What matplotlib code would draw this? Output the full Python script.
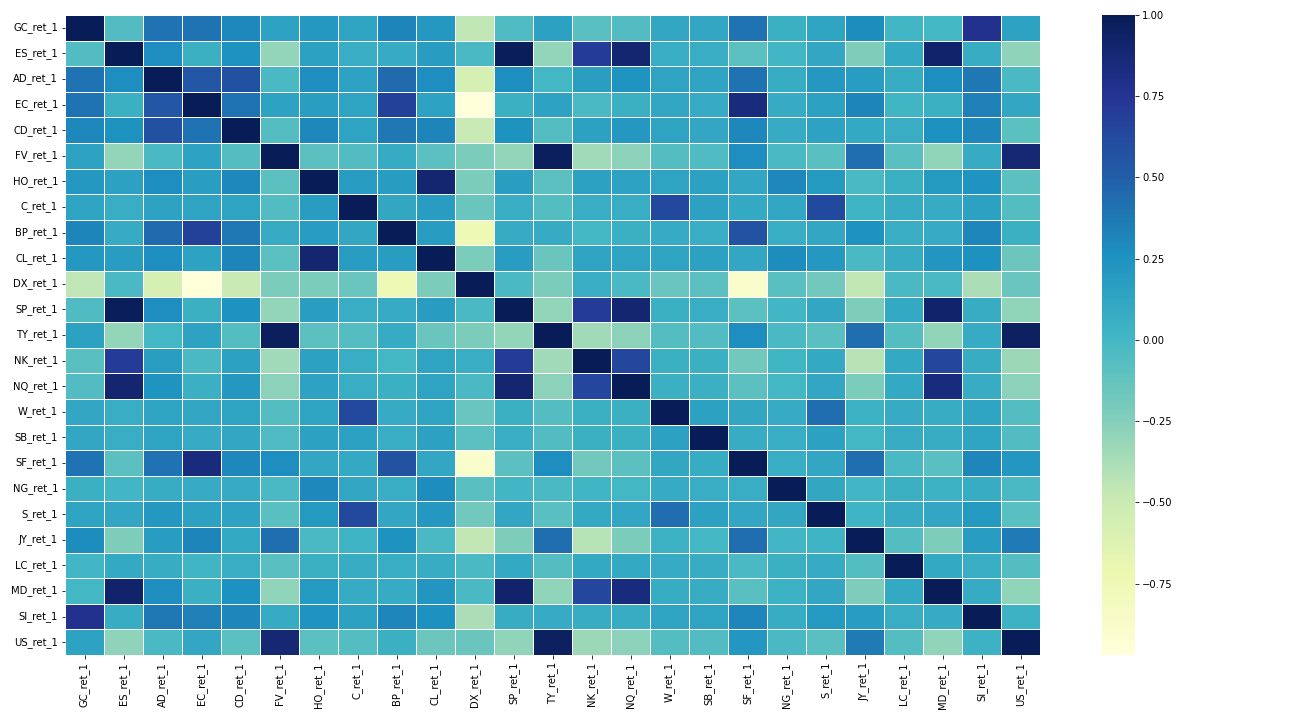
import numpy as np
import pandas as pd
import matplotlib
matplotlib.use("Agg")
import matplotlib.pyplot as plt
import seaborn as sns

labels = ["GC_ret_1", "ES_ret_1", "AD_ret_1", "EC_ret_1", "CD_ret_1", "FV_ret_1",
          "HO_ret_1", "C_ret_1", "BP_ret_1", "CL_ret_1", "DX_ret_1", "SP_ret_1",
          "TY_ret_1", "NK_ret_1", "NQ_ret_1", "W_ret_1", "SB_ret_1", "SF_ret_1",
          "NG_ret_1", "S_ret_1", "JY_ret_1", "LC_ret_1", "MD_ret_1", "SI_ret_1",
          "US_ret_1"]

# upper-triangle correlations, each row lists values for the columns after the diagonal
r_GC = [-0.05, 0.40, 0.40, 0.30, 0.15, 0.21, 0.14, 0.32, 0.21, -0.45, -0.04, 0.16, -0.08,
        -0.05, 0.12, 0.12, 0.40, 0.06, 0.14, 0.28, 0.01, 0.00, 0.78, 0.15]
r_ES = [0.27, 0.06, 0.25, -0.30, 0.16, 0.07, 0.09, 0.18, -0.02, 0.99, -0.30, 0.70, 0.90,
        0.07, 0.07, -0.10, 0.01, 0.12, -0.23, 0.10, 0.92, 0.08, -0.28]
r_AD = [0.55, 0.58, -0.02, 0.27, 0.15, 0.45, 0.27, -0.57, 0.27, 0.00, 0.17, 0.24, 0.14,
        0.14, 0.40, 0.08, 0.21, 0.19, 0.08, 0.27, 0.38, -0.02]
r_EC = [0.40, 0.15, 0.17, 0.14, 0.67, 0.15, -0.97, 0.06, 0.15, -0.02, 0.06, 0.12, 0.09,
        0.85, 0.09, 0.16, 0.32, 0.02, 0.06, 0.34, 0.12]
r_CD = [-0.06, 0.30, 0.14, 0.38, 0.32, -0.49, 0.25, -0.06, 0.16, 0.21, 0.14, 0.12, 0.30,
        0.09, 0.15, 0.10, 0.07, 0.26, 0.31, -0.10]
r_FV = [-0.10, -0.05, 0.09, -0.10, -0.22, -0.30, 0.97, -0.34, -0.27, -0.06, -0.04, 0.27,
        -0.02, -0.08, 0.43, -0.08, -0.29, 0.09, 0.88]
r_HO = [0.18, 0.18, 0.90, -0.22, 0.17, -0.10, 0.16, 0.15, 0.14, 0.16, 0.12, 0.30, 0.20,
        -0.02, 0.06, 0.20, 0.24, -0.10]
r_C = [0.11, 0.18, -0.14, 0.07, -0.06, 0.07, 0.07, 0.63, 0.16, 0.10, 0.12, 0.63, 0.03,
       0.08, 0.09, 0.16, -0.06]
r_BP = [0.18, -0.75, 0.09, 0.09, 0.00, 0.06, 0.09, 0.07, 0.57, 0.07, 0.12, 0.25, 0.07,
        0.09, 0.31, 0.06]
r_CL = [-0.22, 0.18, -0.14, 0.14, 0.14, 0.14, 0.16, 0.12, 0.28, 0.21, -0.02, 0.08, 0.23,
        0.26, -0.16]
r_DX = [-0.02, -0.22, 0.07, -0.02, -0.14, -0.10, -0.88, -0.08, -0.18, -0.46, -0.02,
        -0.02, -0.38, -0.14]
r_SP = [-0.30, 0.70, 0.90, 0.06, 0.07, -0.10, 0.01, 0.12, -0.23, 0.10, 0.92, 0.08, -0.29]
r_TY = [-0.34, -0.27, -0.06, -0.05, 0.27, -0.02, -0.08, 0.43, -0.06, -0.29, 0.09, 0.96]
r_NK = [0.64, 0.06, 0.06, -0.18, 0.02, 0.10, -0.42, 0.10, 0.64, 0.08, -0.33]
r_NQ = [0.06, 0.06, -0.10, 0.00, 0.12, -0.22, 0.10, 0.85, 0.08, -0.27]
r_W = [0.16, 0.11, 0.09, 0.43, 0.04, 0.09, 0.08, 0.14, -0.06]
r_SB = [0.08, 0.07, 0.16, 0.00, 0.08, 0.08, 0.14, -0.05]
r_SF = [0.07, 0.12, 0.43, -0.02, -0.08, 0.31, 0.22]
r_NG = [0.11, 0.01, 0.06, 0.04, 0.08, -0.02]
r_S = [0.03, 0.09, 0.12, 0.20, -0.08]
r_JY = [-0.06, -0.23, 0.18, 0.37]
r_LC = [0.10, 0.07, -0.06]
r_MD = [0.09, -0.29]
r_SI = [0.04]

upper = [r_GC, r_ES, r_AD, r_EC, r_CD, r_FV, r_HO, r_C, r_BP, r_CL, r_DX, r_SP, r_TY,
         r_NK, r_NQ, r_W, r_SB, r_SF, r_NG, r_S, r_JY, r_LC, r_MD, r_SI]

n = len(labels)
M = np.eye(n)
for i, row in enumerate(upper):
    for k, v in enumerate(row):
        j = i + 1 + k
        M[i, j] = v
        M[j, i] = v
corr = pd.DataFrame(M, index=labels, columns=labels)

W, H = 1296, 720
fig = plt.figure(figsize=(W / 72, H / 72), dpi=72)
ax = fig.add_axes([65 / W, 1 - 655 / H, (1040 - 65) / W, 640 / H])
cax = fig.add_axes([1102 / W, 1 - 655 / H, (1135 - 1102) / W, 640 / H])
sns.heatmap(corr, cmap="YlGnBu", linewidths=0.5, ax=ax, cbar_ax=cax)
ax.tick_params(axis="both", labelsize=10)
cax.tick_params(labelsize=10)
fig.savefig("out.png", dpi=72)
